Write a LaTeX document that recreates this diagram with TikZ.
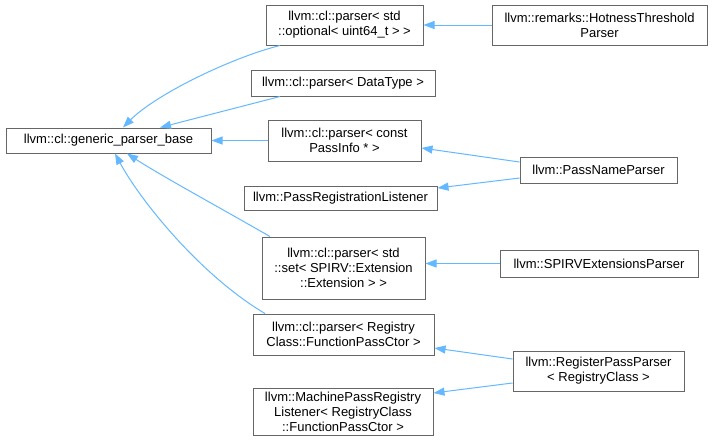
\documentclass[tikz,border=0pt]{standalone}
\usepackage{fontspec}
\setmainfont{Liberation Sans}
\usetikzlibrary{arrows.meta,calc}
\definecolor{edgeblue}{HTML}{63B8FF}
\definecolor{boxgray}{HTML}{666666}
\begin{document}
\begin{tikzpicture}[x=1pt,y=-1pt,
  cls/.style={draw=boxgray,line width=1pt,fill=white,inner sep=0pt,align=center,
    font=\fontsize{13}{15}\selectfont},
  edge/.style={draw=edgeblue,line width=1pt,-{Triangle[length=11pt,width=8pt]}}]
\useasboundingbox (0,0) rectangle (712,440);
\node[cls,minimum width=205pt,minimum height=25pt] (base) at (108.5,140.5) {llvm::cl::generic\_parser\_base};
\node[cls,minimum width=157pt,minimum height=40pt] (opt) at (344.5,25) {llvm::cl::parser< std\\::optional< uint64\_t > >};
\node[cls,minimum width=184pt,minimum height=26pt] (dt) at (343,83) {llvm::cl::parser< DataType >};
\node[cls,minimum width=153pt,minimum height=41pt] (pi) at (344.5,140.5) {llvm::cl::parser< const\\PassInfo * >};
\node[cls,minimum width=193pt,minimum height=24pt] (prl) at (340.5,198) {llvm::PassRegistrationListener};
\node[cls,minimum width=163pt,minimum height=62pt] (set) at (343.5,268) {llvm::cl::parser< std\\::set< SPIRV::Extension\\::Extension > >};
\node[cls,minimum width=181pt,minimum height=41pt] (reg) at (343.5,334.5) {llvm::cl::parser< Registry\\Class::FunctionPassCtor >};
\node[cls,minimum width=180pt,minimum height=47pt] (mpr) at (343,411.5) {llvm::MachinePassRegistry\\Listener< RegistryClass\\::FunctionPassCtor >};
\node[cls,minimum width=215pt,minimum height=40pt] (hot) at (599.5,25) {llvm::remarks::HotnessThreshold\\Parser};
\node[cls,minimum width=157pt,minimum height=26pt] (pnp) at (598.5,170) {llvm::PassNameParser};
\node[cls,minimum width=198pt,minimum height=27pt] (spirv) at (599,263.5) {llvm::SPIRVExtensionsParser};
\node[cls,minimum width=171pt,minimum height=40pt] (rpp) at (598.5,371) {llvm::RegisterPassParser\\< RegistryClass >};
% edges to base
\draw[edge] ([xshift=-64.5pt]opt.south) .. controls (230,58) and (155,95) .. ([xshift=14.5pt]base.north);
\draw[edge] ([xshift=-63pt]dt.south) -- ([xshift=51.5pt]base.north);
\draw[edge] (pi.west) -- (base.east);
\draw[edge] ([xshift=-73.5pt]set.north) .. controls (215,205) and (160,175) .. ([xshift=18.5pt]base.south);
\draw[edge] ([xshift=-78.5pt]reg.north) .. controls (200,275) and (140,200) .. ([xshift=6.5pt]base.south);
% right column edges
\draw[edge] (hot.west) -- (opt.east);
\draw[edge] ([yshift=8pt]pnp.west) -- ([yshift=-7.5pt]pi.east);
\draw[edge] ([yshift=-8pt]pnp.west) -- ([yshift=10pt]prl.east);
\draw[edge] (spirv.west) -- (spirv.west -| set.east);
\draw[edge] ([yshift=12pt]rpp.west) -- ([yshift=-13.5pt]reg.east);
\draw[edge] ([yshift=-12pt]rpp.west) -- ([yshift=18.5pt]mpr.east);
\end{tikzpicture}
\end{document}
